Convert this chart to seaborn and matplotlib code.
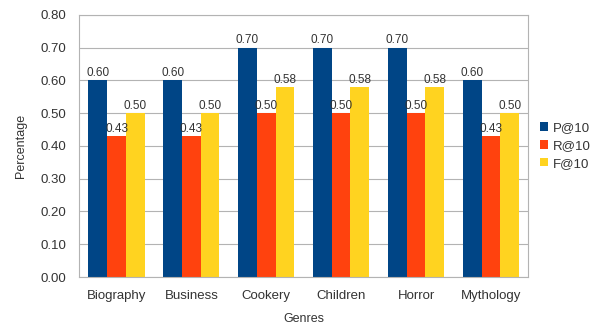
import pandas as pd
import matplotlib.pyplot as plt
import seaborn as sns

# values
genres = ["Biography", "Business", "Cookery", "Children", "Horror", "Mythology"]
p_at_10 = [0.60, 0.60, 0.70, 0.70, 0.70, 0.60]
r_at_10 = [0.43, 0.43, 0.50, 0.50, 0.50, 0.43]
f_at_10 = [0.50, 0.50, 0.58, 0.58, 0.58, 0.50]
metrics = ["P@10", "R@10", "F@10"]

df = pd.DataFrame({
    "Genres": genres * 3,
    "Metric": [m for m in metrics for _ in genres],
    "value": p_at_10 + r_at_10 + f_at_10,
})

sns.set_style("whitegrid")
plt.rcParams["font.family"] = ["Liberation Sans", "DejaVu Sans"]

palette = {"P@10": "#004586", "R@10": "#ff420e", "F@10": "#ffd320"}
txt = "#333333"
grey = "#b3b3b3"

fig = plt.figure(figsize=(5.99, 3.24), dpi=100)
ax = fig.add_axes([0.132, 0.145, 0.750, 0.809])

sns.barplot(data=df, x="Genres", y="value", hue="Metric", palette=palette,
            width=0.75, gap=0, saturation=1, linewidth=0, ax=ax, legend=True)

# value labels on top of each bar
for cont in ax.containers:
    ax.bar_label(cont, fmt="%.2f", fontsize=8.5, color=txt, padding=1)

ax.set_ylim(0, 0.8)
ax.set_yticks([i / 10 for i in range(9)])
ax.set_yticklabels([f"{i / 10:.2f}" for i in range(9)])
ax.set_xlim(-0.5, 5.5)
ax.set_xlabel("Genres", fontsize=9, color=txt, labelpad=8)
ax.set_ylabel("Percentage", fontsize=9, color=txt, labelpad=10)

ax.grid(axis="y", color=grey, linewidth=0.8)
ax.grid(axis="x", visible=False)
ax.set_axisbelow(True)
for s in ax.spines.values():
    s.set_color(grey)
    s.set_linewidth(0.8)

# tick marks between categories, like the original
ax.set_xticks([i - 0.5 for i in range(7)], minor=True)
ax.tick_params(axis="x", which="major", length=0, labelsize=9.5, labelcolor=txt, pad=9)
ax.tick_params(axis="x", which="minor", length=5, color=grey, width=0.8)
ax.tick_params(axis="y", length=6, color=grey, width=0.8, labelsize=9.5, labelcolor=txt, pad=3)

leg = ax.legend(loc="center left", bbox_to_anchor=(1.005, 0.5), frameon=False,
                fontsize=9.5, handlelength=0.6, handleheight=0.6, handletextpad=0.4,
                labelspacing=0.45, title=None, borderaxespad=0.3)
for t in leg.get_texts():
    t.set_color(txt)

fig.savefig("out.png", dpi=100)
